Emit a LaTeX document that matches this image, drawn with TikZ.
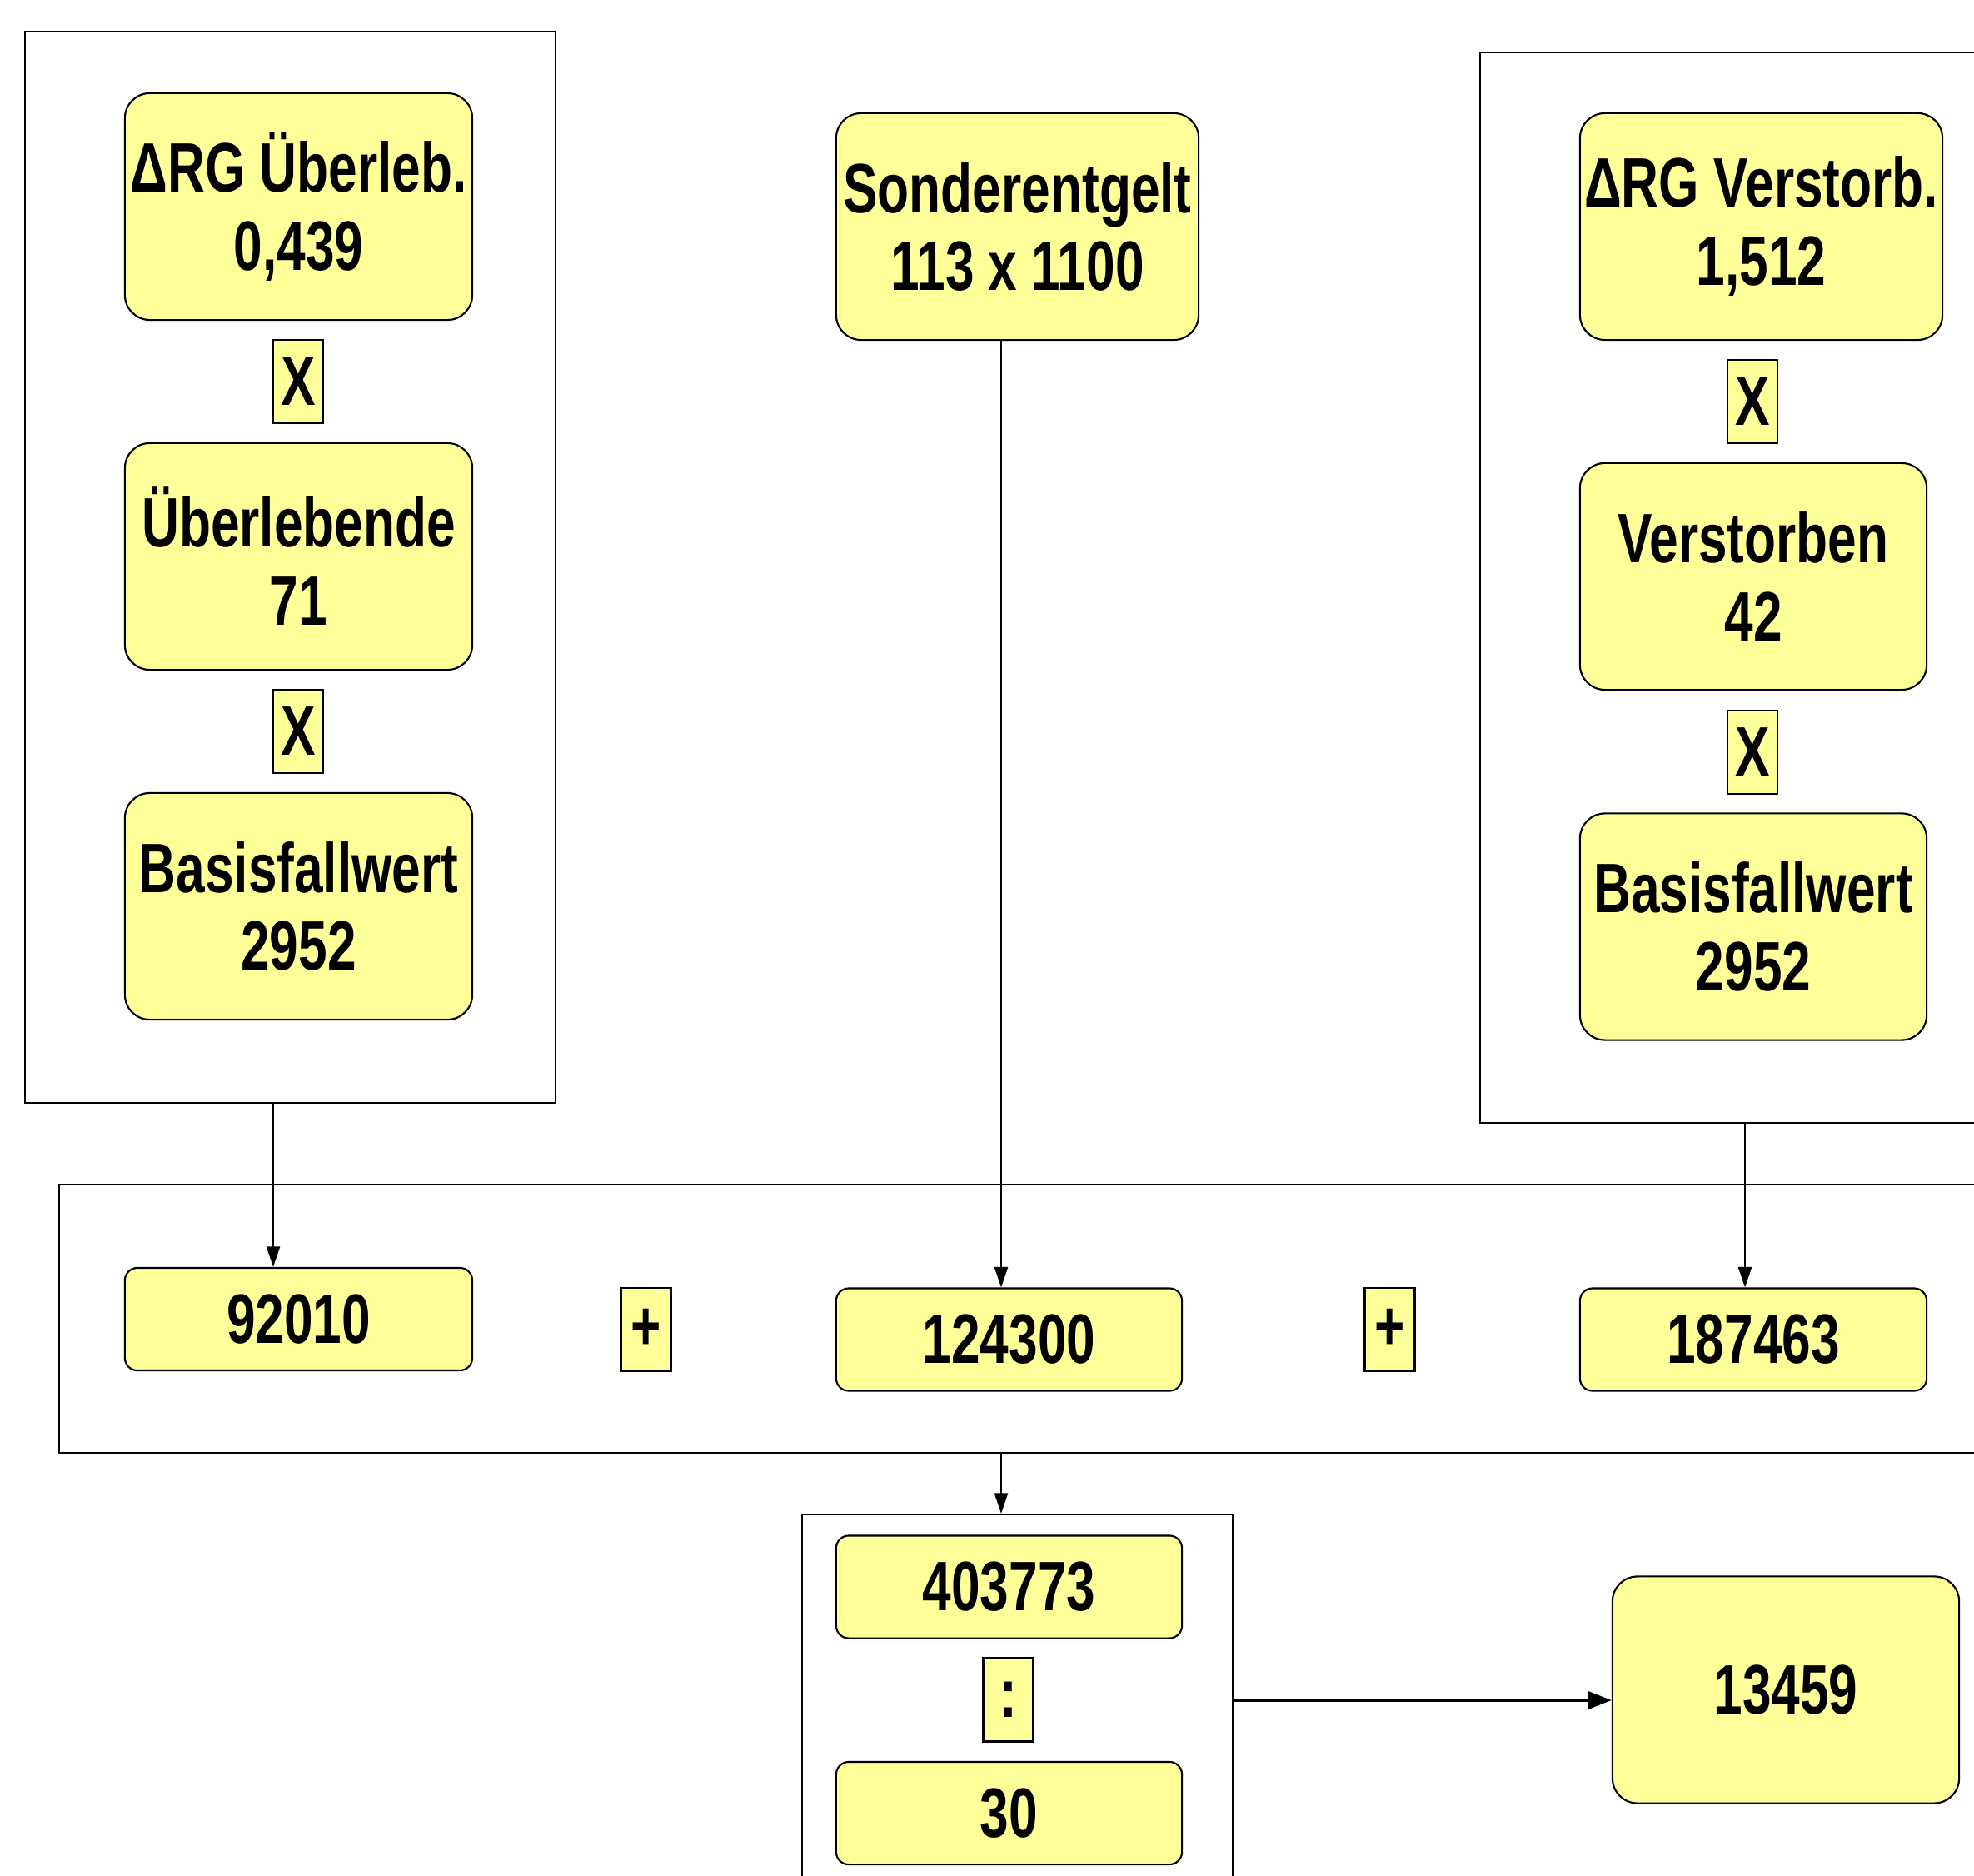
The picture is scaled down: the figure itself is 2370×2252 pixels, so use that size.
\documentclass[tikz,border=0pt]{standalone}
\usepackage{fontspec}
\usetikzlibrary{arrows.meta,fit}
\newfontfamily\boxfam{Liberation Sans}[FakeStretch=0.74]
\definecolor{boxfill}{RGB}{255,255,153}
\tikzset{
  base/.style={draw=black, line width=0.6pt, fill=boxfill, align=center, inner sep=0pt,
    font=\boxfam\bfseries\fontsize{23.9pt}{26.7pt}\selectfont},
  bigbox/.style={base, rounded corners=0.3cm, minimum width=4.17cm, minimum height=2.72cm},
  numbox/.style={base, rounded corners=0.15cm, minimum width=4.15cm, minimum height=1.23cm},
  opbox/.style={base, minimum width=0.6cm, minimum height=1.0cm},
  frame/.style={draw=black, line width=0.6pt, inner sep=0pt},
  arr/.style={draw=black, line width=0.6pt, -{Triangle[length=7pt,width=4.6pt]}},
  bigarr/.style={draw=black, line width=1pt, -{Triangle[length=8pt,width=6pt]}},
}
\begin{document}
\begin{tikzpicture}[x=0.01cm, y=-0.01cm]
\useasboundingbox (0,0) rectangle (2370,2252);
\clip (0,0) rectangle (2370,2252);

% group frames
\node[frame, fit={(30,38) (667,1324)}] (leftframe) {};
\node[frame, fit={(1777,63) (2430,1348)}] (rightframe) {};
\node[frame, fit={(71,1422) (2430,1744)}] (sumframe) {};
\node[frame, fit={(963,1818) (1480,2300)}] (divframe) {};

% survivors
\node[bigbox] (dUe) at (358.5,248) {ΔRG Überleb.\\0,439};
\node[opbox]  (x1)  at (358,458) {X};
\node[bigbox] (Ue)  at (358.5,668) {Überlebende\\71};
\node[opbox]  (x2)  at (358,878) {X};
\node[bigbox] (BfL) at (358.5,1088) {Basisfallwert\\2952};

% special fee
\node[bigbox, minimum width=4.35cm] (Sonder) at (1221.5,272) {Sonderentgelt\\113 x 1100};

% deceased
\node[bigbox, minimum width=4.35cm] (dV) at (2114.5,272) {ΔRG Verstorb.\\1,512};
\node[opbox]  (x3)  at (2104,482) {X};
\node[bigbox, minimum width=4.16cm] (V)   at (2105,692) {Verstorben\\42};
\node[opbox]  (x4)  at (2104,903) {X};
\node[bigbox, minimum width=4.16cm] (BfR) at (2105,1112.5) {Basisfallwert\\2952};

% sum row
\node[numbox, minimum width=4.17cm] (n92010) at (358.5,1583.5) {92010};
\node[opbox] (p1) at (775.5,1596) {+};
\node[numbox] (n124300) at (1211.5,1608) {124300};
\node[opbox] (p2) at (1668.5,1596) {+};
\node[numbox, minimum width=4.16cm] (n187463) at (2105,1608) {187463};

% division
\node[numbox] (n403773) at (1211.5,1905) {403773};
\node[opbox] (div) at (1210.5,2040.5) {:};
\node[numbox] (n30) at (1211.5,2176.5) {30};

% result
\node[bigbox, minimum width=4.16cm] (res) at (2144,2028.5) {13459};

% connector columns
\coordinate (cL) at (328,0);
\coordinate (cM) at (1202,0);
\coordinate (cR) at (2095,0);
\coordinate (cH) at (0,2041);

\draw[arr] (cL |- leftframe.south) -- (cL |- n92010.north);
\draw[arr] (cM |- Sonder.south) -- (cM |- n124300.north);
\draw[arr] (cR |- rightframe.south) -- (cR |- n187463.north);
\draw[arr] (cM |- sumframe.south) -- (cM |- divframe.north);
\draw[bigarr] (divframe.east |- cH) -- (res.west |- cH);
\end{tikzpicture}
\end{document}
